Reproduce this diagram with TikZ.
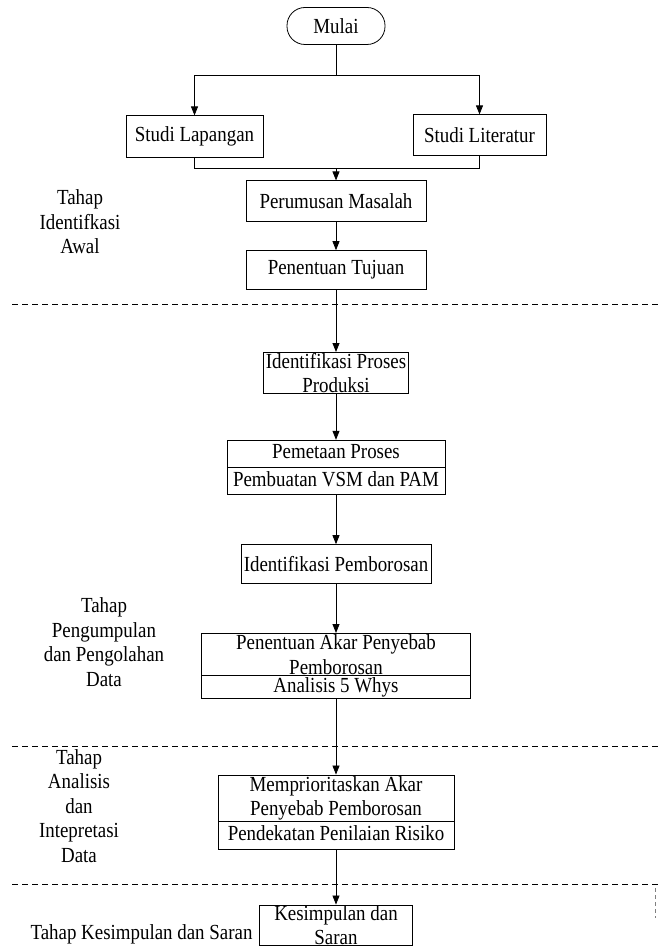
\documentclass[tikz,border=0pt]{standalone}
\usepackage{fontspec}
\setmainfont[FakeStretch=0.88]{Liberation Serif}
\usetikzlibrary{positioning,shapes.multipart,arrows.meta}

\begin{document}
\begin{tikzpicture}[
x=1pt, y=1pt,
font=\fontsize{21.5}{24.5}\selectfont,
line width=0.8pt,
>={Triangle[length=9pt,width=7pt]},
kotak/.style={
	draw, rectangle, minimum height=41pt,
	inner xsep=2pt, inner ysep=0pt, align=center
},
terminal/.style={draw, rounded corners=18pt, minimum width=98pt, minimum height=37pt},
dua/.style={
	draw, rectangle split, rectangle split parts=2,
	inner xsep=2pt, inner ysep=1pt, align=center
},
tahap/.style={align=center},
pemisah/.style={dash pattern=on 6pt off 4pt}
]
\useasboundingbox (0,0) rectangle (661,-949);
\node[terminal] (mulai) at (336,-26) {Mulai};
\coordinate[below=30.5pt of mulai] (pisah);
\node[kotak, minimum width=137pt, minimum height=42pt, below=70.5pt of mulai, xshift=-141.5pt] (lapangan) {Studi Lapangan};
\node[kotak, minimum width=133pt, below=69.5pt of mulai, xshift=143.5pt] (literatur) {Studi Literatur};
\node[kotak, minimum width=180pt, below=135.5pt of mulai] (perumusan) {Perumusan Masalah};
\coordinate[above=12pt of perumusan] (gabung);
\node[kotak, minimum width=180pt, minimum height=39pt, below=28pt of perumusan] (tujuan) {Penentuan Tujuan};
\node[kotak, minimum width=123pt, below=62pt of tujuan] (proses) {Identifikasi Proses\\Produksi};
\node[dua, minimum width=218pt, below=46pt of proses] (pemetaan) {\strut Pemetaan Proses\nodepart{two}\strut Pembuatan VSM dan PAM};
\node[kotak, minimum width=190pt, minimum height=39pt, below=49pt of pemetaan] (pemborosan) {Identifikasi Pemborosan};
\node[dua, minimum width=269pt, below=49pt of pemborosan] (akar) {Penentuan Akar Penyebab\\Pemborosan\nodepart{two}Analisis 5 Whys};
\node[dua, minimum width=236pt, below=76pt of akar] (prioritas) {Memprioritaskan Akar\\Penyebab Pemborosan\nodepart{two}\strut Pendekatan Penilaian Risiko};
\node[kotak, minimum width=153pt, minimum height=40pt, below=55pt of prioritas] (kesimpulan) {Kesimpulan dan\\Saran};

% tahapan
\node[tahap] (awal) at (80,-222) {Tahap\\Identifkasi\\Awal};
\node[tahap] (olah) at (104,-642) {Tahap\\Pengumpulan\\dan Pengolahan\\Data};
\node[tahap] (analisis) at (79,-806) {Tahap\\Analisis\\dan\\Intepretasi\\Data};
\node[tahap] (saran) at (141.5,-934) {Tahap Kesimpulan dan Saran};

% garis pemisah
\draw[pemisah] (12,-304) -- (661,-304);
\draw[pemisah] (12,-746) -- (661,-746);
\draw[pemisah] (12,-884) -- (661,-884);
\draw[gray, dash pattern=on 4pt off 3pt] (655,-888) -- (655,-918);

\draw (mulai) -- (pisah);
\draw[->] (pisah) -| (lapangan);
\draw[->] (pisah) -| (literatur);
\draw (lapangan) |- (gabung);
\draw (literatur) |- (gabung);
\draw[->] (gabung) -- (perumusan);
\foreach \a/\b in {perumusan/tujuan, tujuan/proses, proses/pemetaan, pemetaan/pemborosan, pemborosan/akar, akar/prioritas, prioritas/kesimpulan}
{
	\draw[->] (\a) -- (\b);
}
\end{tikzpicture}
\end{document}
